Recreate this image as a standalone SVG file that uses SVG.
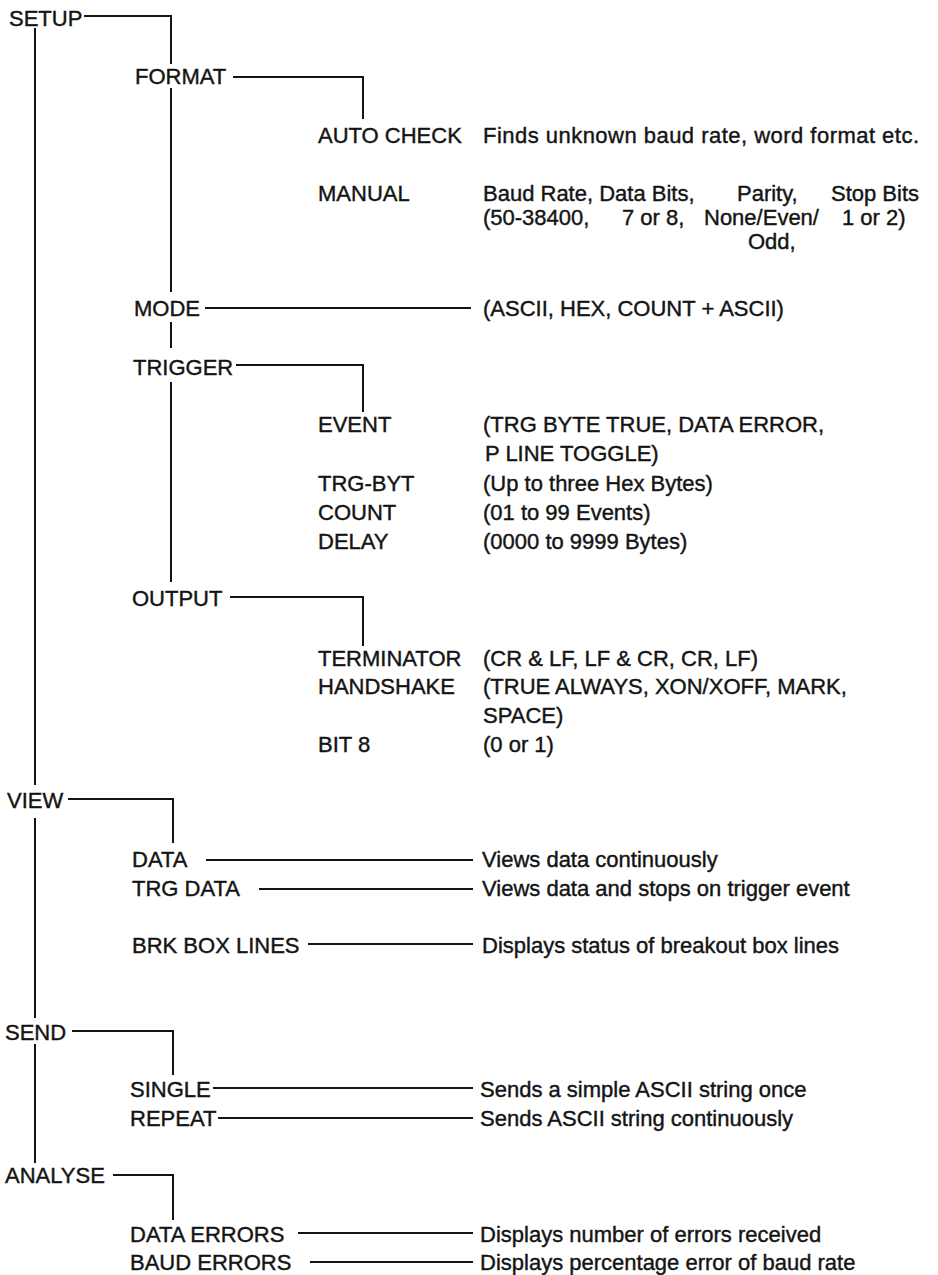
<svg xmlns="http://www.w3.org/2000/svg" width="938" height="1275" viewBox="0 0 938 1275">
<style>
text{font-family:"Liberation Sans",Arial,Helvetica,sans-serif;font-size:22px;fill:#141414;stroke:#141414;stroke-width:0.4}
.c path{fill:none;stroke:#141414;stroke-width:2}
</style>
<rect width="938" height="1275" fill="#fff"/>
<g class="c" id="connectors">
<path d="M35,28V785M35,818V1018M35,1044V1163"/>
<path d="M84,16H171V64M171,88V292M171,322V348M171,382V582"/>
<path d="M233,77H363V119"/>
<path d="M205,308H471"/>
<path d="M236,365H363V412"/>
<path d="M230,597H363V646"/>
<path d="M68,799H173V843"/>
<path d="M206,860H473M259,889H473M308,944H473"/>
<path d="M72,1031H173V1075"/>
<path d="M213,1088H473M218,1118H473"/>
<path d="M113,1175H173V1220"/>
<path d="M298,1233H473M310,1262H473"/>
</g>
<g id="setup"><text x="9" y="26">SETUP</text></g>
<g id="format"><text x="135" y="84">FORMAT</text></g>
<g id="autocheck"><text x="318" y="143">AUTO CHECK</text><text x="483" y="143" textLength="436">Finds unknown baud rate, word format etc.</text></g>
<g id="manual"><text x="318" y="201">MANUAL</text>
<text x="483" y="201">Baud Rate, Data Bits,</text><text x="737" y="201">Parity,</text><text x="831" y="201">Stop Bits</text>
<text x="483" y="225">(50-38400,</text><text x="622" y="225">7 or 8,</text><text x="704" y="225">None/Even/</text><text x="842" y="225">1 or 2)</text>
<text x="748" y="249">Odd,</text></g>
<g id="mode"><text x="134" y="316">MODE</text><text x="483" y="316">(ASCII, HEX, COUNT + ASCII)</text></g>
<g id="trigger"><text x="133" y="375">TRIGGER</text></g>
<g id="event"><text x="318" y="432">EVENT</text><text x="483" y="432">(TRG BYTE TRUE, DATA ERROR,</text><text x="485" y="461">P LINE TOGGLE)</text></g>
<g id="trgbyt"><text x="318" y="491">TRG-BYT</text><text x="483" y="491">(Up to three Hex Bytes)</text></g>
<g id="count"><text x="318" y="520">COUNT</text><text x="483" y="520">(01 to 99 Events)</text></g>
<g id="delay"><text x="318" y="549">DELAY</text><text x="483" y="549">(0000 to 9999 Bytes)</text></g>
<g id="output"><text x="132" y="606">OUTPUT</text></g>
<g id="terminator"><text x="318" y="666">TERMINATOR</text><text x="483" y="666">(CR &amp; LF, LF &amp; CR, CR, LF)</text></g>
<g id="handshake"><text x="318" y="694">HANDSHAKE</text><text x="483" y="694">(TRUE ALWAYS, XON/XOFF, MARK,</text><text x="483" y="723">SPACE)</text></g>
<g id="bit8"><text x="318" y="752">BIT 8</text><text x="483" y="752">(0 or 1)</text></g>
<g id="view"><text x="7" y="808">VIEW</text></g>
<g id="data"><text x="132" y="867">DATA</text><text x="482" y="867">Views data continuously</text></g>
<g id="trgdata"><text x="132" y="896">TRG DATA</text><text x="482" y="896">Views data and stops on trigger event</text></g>
<g id="brkbox"><text x="132" y="953">BRK BOX LINES</text><text x="482" y="953">Displays status of breakout box lines</text></g>
<g id="send"><text x="5" y="1040">SEND</text></g>
<g id="single"><text x="130" y="1097">SINGLE</text><text x="480" y="1097">Sends a simple ASCII string once</text></g>
<g id="repeat"><text x="130" y="1126">REPEAT</text><text x="480" y="1126">Sends ASCII string continuously</text></g>
<g id="analyse"><text x="5" y="1183">ANALYSE</text></g>
<g id="dataerrors"><text x="130" y="1242">DATA ERRORS</text><text x="480" y="1242">Displays number of errors received</text></g>
<g id="bauderrors"><text x="130" y="1270">BAUD ERRORS</text><text x="480" y="1270">Displays percentage error of baud rate</text></g>
</svg>
